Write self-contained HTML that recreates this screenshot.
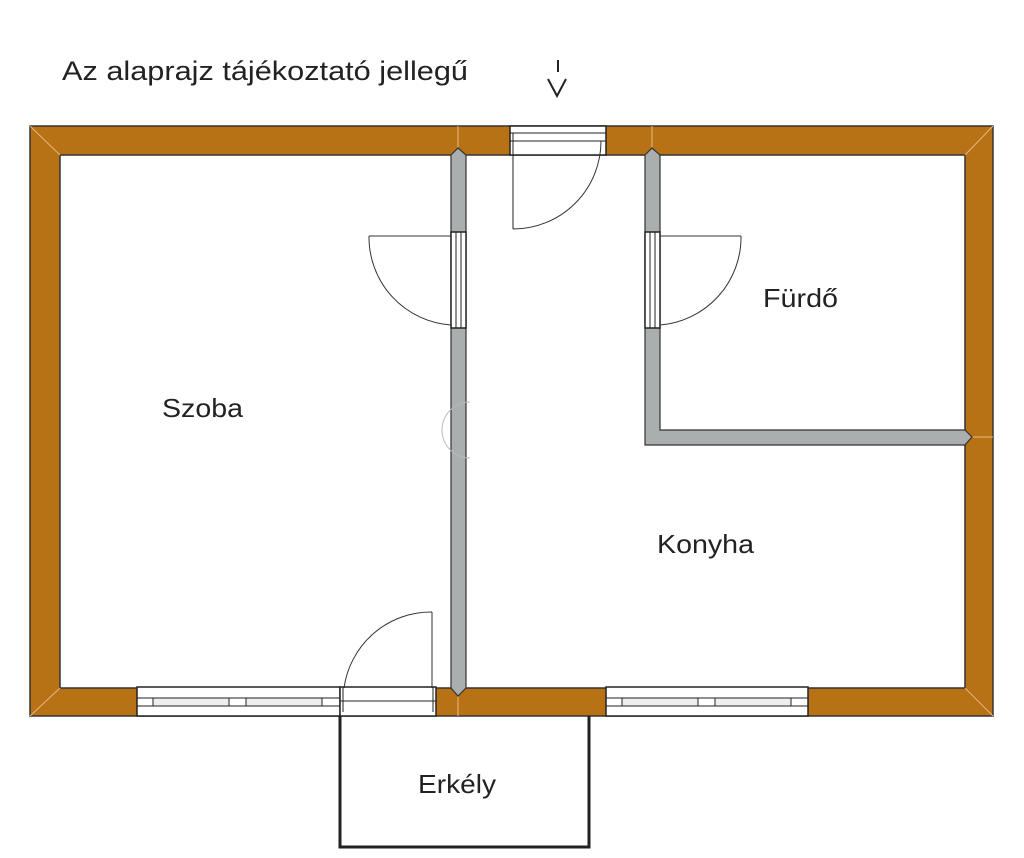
<!DOCTYPE html>
<html><head><meta charset="utf-8"><style>
html,body{margin:0;padding:0;background:#fff;}
svg{display:block;}
text{font-family:"Liberation Sans",sans-serif;fill:#222;}
</style></head><body>
<svg width="1024" height="858" viewBox="0 0 1024 858" xmlns="http://www.w3.org/2000/svg">
<text x="62" y="80" font-size="27" textLength="406" lengthAdjust="spacingAndGlyphs">Az alaprajz tájékoztató jellegű</text>
<line x1="558" y1="60" x2="558" y2="72" stroke="#222" stroke-width="2"/>
<polyline points="548,79 557,96 566,79" fill="none" stroke="#222" stroke-width="2"/>
<!-- outer wall -->
<path d="M30,126 H993 V716 H30 Z M60,155 V688 H965 V155 Z" fill="#b87216" fill-rule="evenodd" stroke="#333" stroke-width="1.5"/>
<g stroke="#e9b680" stroke-width="1"><line x1="30" y1="126" x2="60" y2="155"/><line x1="993" y1="126" x2="965" y2="155"/><line x1="30" y1="716" x2="60" y2="688"/><line x1="993" y1="716" x2="965" y2="688"/><line x1="458" y1="126" x2="458" y2="150"/><line x1="652" y1="126" x2="652" y2="150"/><line x1="965" y1="437" x2="993" y2="437"/><line x1="458" y1="692" x2="458" y2="716"/></g>
<!-- interior walls -->
<g fill="#aaaeae" stroke="#333" stroke-width="1.2">
<path d="M451,155 L458,148 L466,155 V688 L458,696 L451,688 Z"/>
<path d="M645,155 L652,148 L660,155 V430 H965 L972,437 L965,445 H645 Z"/>
</g>
<!-- top door -->
<rect x="510" y="126" width="96" height="29" fill="#fff" stroke="#222" stroke-width="1.5"/>
<line x1="510" y1="133" x2="606" y2="133" stroke="#222"/><line x1="510" y1="141" x2="606" y2="141" stroke="#222"/>
<line x1="513" y1="133" x2="513" y2="229" stroke="#222"/>
<path d="M513,229 A88,88 0 0 0 601,141" fill="none" stroke="#333"/>
<!-- left partition door -->
<rect x="451" y="232" width="15" height="96" fill="#fff" stroke="#222" stroke-width="1.5"/>
<line x1="456" y1="232" x2="456" y2="328" stroke="#222"/><line x1="461" y1="232" x2="461" y2="328" stroke="#222"/>
<line x1="369" y1="236" x2="451" y2="236" stroke="#333"/>
<path d="M369,236 A88,88 0 0 0 451,325" fill="none" stroke="#333"/>
<!-- right partition door -->
<rect x="645" y="232" width="15" height="96" fill="#fff" stroke="#222" stroke-width="1.5"/>
<line x1="650" y1="232" x2="650" y2="328" stroke="#222"/><line x1="655" y1="232" x2="655" y2="328" stroke="#222"/>
<line x1="660" y1="236" x2="741" y2="236" stroke="#333"/>
<path d="M741,236 A88,88 0 0 1 660,325" fill="none" stroke="#333"/>
<path d="M470,402 A28,28 0 0 0 470,458" fill="none" stroke="#bbb"/>
<!-- bottom windows -->
<g stroke="#222" fill="#fff">
<rect x="137" y="687" width="203" height="29" stroke-width="1.5"/>
<line x1="137" y1="698" x2="340" y2="698"/><line x1="137" y1="706" x2="340" y2="706"/>
<rect x="153" y="698" width="76" height="8" fill="#eee"/><rect x="246" y="698" width="76" height="8" fill="#eee"/>
<rect x="340" y="687" width="96" height="29" stroke-width="1.5"/>
<line x1="340" y1="701" x2="436" y2="701"/>
<line x1="343" y1="687" x2="343" y2="712"/><line x1="433" y1="687" x2="433" y2="712"/>
<rect x="606" y="687" width="202" height="29" stroke-width="1.5"/>
<line x1="606" y1="698" x2="808" y2="698"/><line x1="606" y1="706" x2="808" y2="706"/>
<rect x="622" y="698" width="76" height="8" fill="#eee"/><rect x="715" y="698" width="76" height="8" fill="#eee"/>
</g>
<line x1="432" y1="612" x2="432" y2="688" stroke="#333"/>
<path d="M344,688 A88,88 0 0 1 432,612" fill="none" stroke="#333"/>
<!-- balcony -->
<path d="M340,716 V847 H589 V716" fill="none" stroke="#222" stroke-width="3"/>
<text x="162" y="417" font-size="26" textLength="81" lengthAdjust="spacingAndGlyphs">Szoba</text>
<text x="763" y="307" font-size="26" textLength="75" lengthAdjust="spacingAndGlyphs">Fürdő</text>
<text x="657" y="553" font-size="26" textLength="97" lengthAdjust="spacingAndGlyphs">Konyha</text>
<text x="418" y="793" font-size="26" textLength="78" lengthAdjust="spacingAndGlyphs">Erkély</text>
</svg>
</body></html>
